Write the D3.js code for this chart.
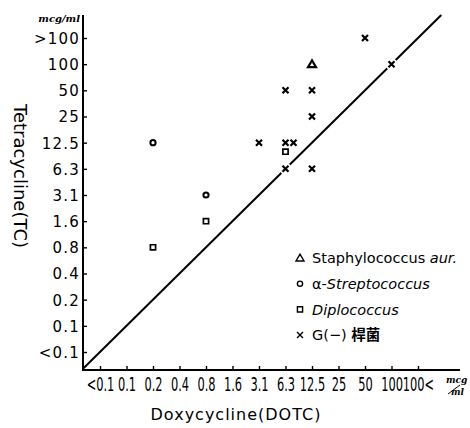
<!DOCTYPE html>
<html>
<head>
<meta charset="utf-8">
<script src="https://cdn.jsdelivr.net/npm/d3@7"></script>
<style>
    body { margin: 0; background: #fff; }
    svg { display: block; }
</style>
</head>
<body>
<svg id="chart" width="470" height="428"></svg>
<script>
// tick labels (doubling dilution steps)
var xLabels = ['<0.1', '0.1', '0.2', '0.4', '0.8', '1.6', '3.1', '6.3', '12.5', '25', '50', '100', '100<'];
var yLabels = ['<0.1', '0.1', '0.2', '0.4', '0.8', '1.6', '3.1', '6.3', '12.5', '25', '50', '100', '>100'];

// [DOTC, TC] MIC per strain
var gramNegative = [['50', '>100'], ['100', '100'], ['6.3', '50'], ['12.5', '50'], ['12.5', '25'],
    ['3.1', '12.5'], ['6.3', '12.5'], ['6.3', '12.5'], ['6.3', '6.3'], ['12.5', '6.3']];
var staphylococcus = [['12.5', '100']];
var streptococcus = [['0.2', '12.5'], ['0.8', '3.1']];
var diplococcus = [['0.2', '0.8'], ['0.8', '1.6'], ['6.3', '12.5']];

var svg = d3.select('#chart');

var x = d3.scalePoint().domain(xLabels).range([100, 418]);
var y = d3.scalePoint().domain(yLabels).range([352, 38]);
// same positions as index scales, used for the y = x reference line
var xi = d3.scaleLinear().domain([0, xLabels.length - 1]).range(x.range());
var yi = d3.scaleLinear().domain([0, yLabels.length - 1]).range(y.range());

var plotLeft = 83, plotBottom = 370, plotTop = 15, plotRight = 460;

// axes
var gx = svg.append('g')
    .attr('transform', `translate(0,${plotBottom})`)
    .call(d3.axisBottom(x).tickSizeInner(-4).tickSizeOuter(0).tickPadding(8));
gx.select('.domain').remove();
gx.selectAll('line').attr('stroke', '#000').attr('stroke-width', 1.4);
gx.selectAll('text')
    .attr('fill', '#000')
    .attr('transform', 'scale(0.6,1)')
    .style('font-family', '"DejaVu Sans", sans-serif')
    .style('font-size', '19px');

var gy = svg.append('g')
    .attr('transform', `translate(${plotLeft},0)`)
    .call(d3.axisLeft(y).tickSizeInner(-4).tickSizeOuter(0).tickPadding(3));
gy.select('.domain').remove();
gy.selectAll('line').attr('stroke', '#000').attr('stroke-width', 1.4);
gy.selectAll('text')
    .attr('fill', '#000')
    .attr('dy', '0.36em')
    .style('font-family', '"DejaVu Sans", sans-serif')
    .style('font-size', '15px')
    .style('letter-spacing', '1.2px');

svg.append('path')
    .attr('fill', 'none')
    .attr('stroke', '#000')
    .attr('stroke-width', 2)
    .attr('d', `M${plotLeft},${plotTop}V${plotBottom}H${plotRight}`);

// units
svg.append('text')
    .attr('x', 80).attr('y', 22)
    .attr('text-anchor', 'end')
    .style('font-family', '"DejaVu Serif", serif')
    .style('font-style', 'italic')
    .style('font-weight', 'bold')
    .style('font-size', '10px')
    .text('mcg/ml');
var unit = svg.append('g')
    .attr('transform', 'translate(446,0)')
    .style('font-family', '"DejaVu Serif", serif')
    .style('font-style', 'italic')
    .style('font-size', '9px')
    .style('font-weight', 'bold');
unit.append('text').attr('x', 0).attr('y', 383).text('mcg');
unit.append('text').attr('x', 5).attr('y', 395).text('ml');
unit.append('line')
    .attr('x1', 2).attr('y1', 394).attr('x2', 14).attr('y2', 385)
    .attr('stroke', '#000').attr('stroke-width', 1);

// titles
svg.append('text')
    .attr('transform', 'translate(14,176) rotate(90)')
    .attr('text-anchor', 'middle')
    .style('font-family', '"DejaVu Sans", sans-serif')
    .style('font-size', '18px')
    .text('Tetracycline(TC)');

svg.append('text')
    .attr('x', 236).attr('y', 420)
    .attr('text-anchor', 'middle')
    .style('font-family', '"DejaVu Sans", sans-serif')
    .style('font-size', '16px')
    .style('letter-spacing', '1px')
    .text('Doxycycline(DOTC)');

// y = x reference line
var s0 = xi.invert(plotLeft), s1 = yi.invert(plotTop);
svg.append('line')
    .attr('x1', xi(s0)).attr('y1', yi(s0))
    .attr('x2', xi(s1)).attr('y2', yi(s1))
    .attr('stroke', '#000')
    .attr('stroke-width', 2);

// marker shapes
var shapes = {
    cross: 'M-3,-3L3,3M3,-3L-3,3',
    circle: 'M2.6,0A2.6,2.6 0 1,1 -2.6,0A2.6,2.6 0 1,1 2.6,0Z',
    square: 'M-2.6,-2.6H2.6V2.6H-2.6Z',
    triangle: 'M0,-3.8L4,3H-4Z'
};

var series = [
    { name: 'gram', data: gramNegative, shape: 'cross', width: 2.2 },
    { name: 'staph', data: staphylococcus, shape: 'triangle', width: 2.2 },
    { name: 'strep', data: streptococcus, shape: 'circle', width: 2 },
    { name: 'diplo', data: diplococcus, shape: 'square', width: 1.7 }
];

// overlapping marks in one cell are set side by side
var dodge = [[0, 0], [8, 0], [0, 9]];
var used = {};
var points = [];
series.forEach(function (s) {
    s.data.forEach(function (d) {
        var key = d[0] + '|' + d[1];
        var n = used[key] || 0;
        used[key] = n + 1;
        points.push({
            shape: s.shape,
            width: s.width,
            cx: x(d[0]) + dodge[n][0],
            cy: y(d[1]) + dodge[n][1]
        });
    });
});

var marks = svg.append('g');
marks.selectAll('.halo')
    .data(points)
    .enter()
    .append('circle')
    .attr('class', 'halo')
    .attr('cx', function (d) { return d.cx; })
    .attr('cy', function (d) { return d.cy; })
    .attr('r', 6)
    .attr('fill', '#fff');

marks.selectAll('.mark')
    .data(points)
    .enter()
    .append('path')
    .attr('class', 'mark')
    .attr('transform', function (d) { return `translate(${d.cx},${d.cy})`; })
    .attr('d', function (d) { return shapes[d.shape]; })
    .attr('fill', 'none')
    .attr('stroke', '#000')
    .attr('stroke-width', function (d) { return d.width; });

// legend
var legendItems = [
    { shape: 'triangle', parts: [['Staphylococcus ', 'normal'], ['aur.', 'italic']] },
    { shape: 'circle', parts: [['α-', 'normal'], ['Streptococcus', 'italic']] },
    { shape: 'square', parts: [['Diplococcus', 'italic']] },
    { shape: 'cross', parts: [['G(−) ', 'normal'], ['桿菌', 'cjk']] }
];

var legend = svg.append('g')
    .attr('transform', 'translate(300,258)');

var rows = legend.selectAll('g')
    .data(legendItems)
    .enter()
    .append('g')
    .attr('transform', function (d, i) { return `translate(0,${i * 25.7})`; });

rows.append('path')
    .attr('d', function (d) { return shapes[d.shape]; })
    .attr('fill', 'none')
    .attr('stroke', '#000')
    .attr('stroke-width', 1.4);

var label = rows.append('text')
    .attr('x', 12)
    .attr('dy', '0.36em')
    .style('font-family', '"DejaVu Sans", sans-serif')
    .style('font-size', '14.5px');

label.selectAll('tspan')
    .data(function (d) { return d.parts; })
    .enter()
    .append('tspan')
    .style('font-style', function (p) { return p[1] === 'italic' ? 'oblique' : 'normal'; })
    .style('font-family', function (p) {
        return p[1] === 'cjk' ? '"Noto Sans CJK JP", sans-serif' : null;
    })
    .style('font-weight', function (p) { return p[1] === 'cjk' ? 'bold' : null; })
    .text(function (p) { return p[0]; });
</script>
</body>
</html>
